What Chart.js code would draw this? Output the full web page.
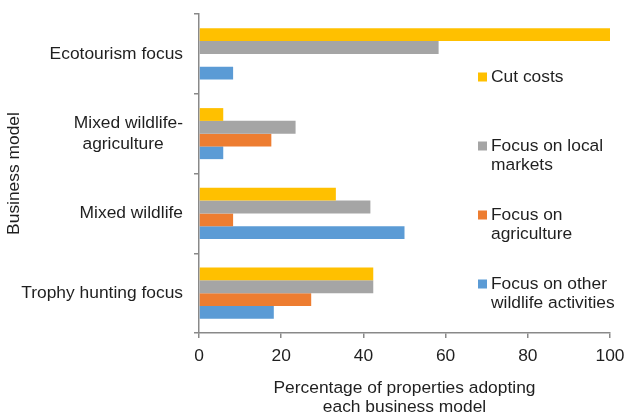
<!DOCTYPE html>
<html>
<head>
<meta charset="utf-8">
<script src="https://cdn.jsdelivr.net/npm/chart.js@4/dist/chart.umd.min.js"></script>
<style>
  html, body { margin: 0; padding: 0; background: #fff; }
  #wrap { width: 625px; height: 415px; }
</style>
</head>
<body>
<div id="wrap"><canvas id="business-chart" width="625" height="415"></canvas></div>
<script>
// Business models (top to bottom)
const models = ['Ecotourism focus', ['Mixed wildlife-', 'agriculture    '], 'Mixed wildlife', 'Trophy hunting focus'];

// Series names, split where the legend wraps them
const seriesNames = [
  ['Cut costs'],
  ['Focus on local', 'markets'],
  ['Focus on', 'agriculture'],
  ['Focus on other', 'wildlife activities']
];
const seriesColors = ['#FFC000', '#A5A5A5', '#ED7D31', '#5B9BD5'];

// % of properties adopting each business model
const cutCosts = [100, 5.9, 33.3, 42.4];
const localMarkets = [58.3, 23.5, 41.7, 42.4];
const agriculture = [0, 17.6, 8.3, 27.3];
const otherWildlife = [8.3, 5.9, 50, 18.2];

const xTicks = [0, 20, 40, 60, 80, 100];

const textColor = '#1f1f1f';
const axisColor = '#898989';
const font = { family: 'Liberation Sans, Arial, sans-serif', size: 17.4 };

// legend sits inside the plot, one entry per series, spaced out vertically
const sideLegend = {
  id: 'sideLegend',
  afterDraw(chart) {
    const { ctx } = chart;
    ctx.save();
    ctx.font = `${font.size}px ${font.family}`;
    ctx.textBaseline = 'middle';
    ctx.textAlign = 'left';
    chart.data.datasets.forEach((ds, i) => {
      const y = 77 + i * 69;
      ctx.fillStyle = ds.backgroundColor;
      ctx.fillRect(478, y - 4.5, 9, 9);
      ctx.fillStyle = textColor;
      ds.legendLines.forEach((line, j) => ctx.fillText(line, 491, y + j * 19));
    });
    ctx.restore();
  }
};

const series = [cutCosts, localMarkets, agriculture, otherWildlife];

new Chart(document.getElementById('business-chart'), {
  type: 'bar',
  data: {
    labels: models,
    datasets: series.map((values, i) => ({
      label: seriesNames[i].join(' '),
      legendLines: seriesNames[i],
      data: values,
      backgroundColor: seriesColors[i],
      borderWidth: 0,
      barPercentage: 1,
      categoryPercentage: 0.64
    }))
  },
  options: {
    indexAxis: 'y',
    responsive: false,
    animation: false,
    layout: { padding: { top: 14, right: 15, left: 0, bottom: 0 } },
    plugins: {
      legend: { display: false },
      tooltip: { enabled: false }
    },
    scales: {
      x: {
        min: 0,
        max: 100,
        afterBuildTicks: scale => { scale.ticks = xTicks.map(v => ({ value: v })); },
        afterFit: scale => {
          scale.height = 82;
          scale.paddingLeft = 0;
          scale.paddingRight = 0;
        },
        border: { color: axisColor, width: 1.5 },
        grid: { drawOnChartArea: false, drawTicks: true, tickLength: 5, color: axisColor, lineWidth: 1.5 },
        ticks: { color: textColor, font, padding: 8, maxRotation: 0 },
        title: {
          display: true,
          text: ['Percentage of properties adopting', 'each business model'],
          color: textColor,
          font: { ...font, lineHeight: 1.12 },
          padding: { top: 0, bottom: -2 }
        }
      },
      y: {
        afterFit: scale => {
          scale.width = 199;
          scale.paddingTop = 0;
          scale.paddingBottom = 0;
        },
        border: { color: axisColor, width: 1.5 },
        grid: { offset: true, drawOnChartArea: false, drawTicks: true, tickLength: 5, color: axisColor, lineWidth: 1.5 },
        ticks: { color: textColor, font: { ...font, lineHeight: 1.2 }, padding: 11 },
        title: {
          display: true,
          text: 'Business model',
          color: textColor,
          font,
          padding: { top: 4, bottom: 0 }
        }
      }
    }
  },
  plugins: [sideLegend]
});
</script>
</body>
</html>
